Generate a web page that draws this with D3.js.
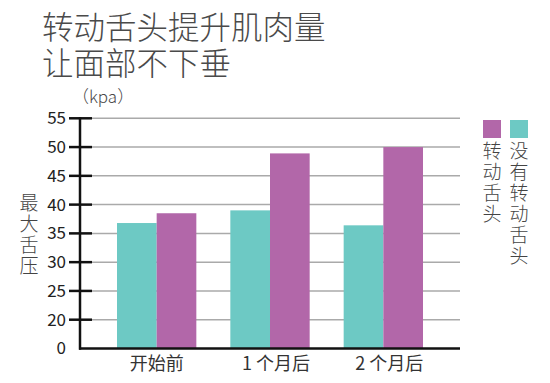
<!DOCTYPE html>
<html><head><meta charset="utf-8">
<script src="https://cdn.jsdelivr.net/npm/d3@7"></script>
<style>body{margin:0;background:#fff;position:relative}svg{display:block}
#title{position:absolute;left:42px;top:6.6px;margin:0;white-space:pre-line;font-family:'Noto Sans CJK SC','Noto Sans',sans-serif;font-size:31.5px;line-height:36.5px;font-weight:300;color:#4a4a4a}</style>
</head><body>
<svg id="c" width="550" height="383"></svg>
<script>
const titleLines = ["转动舌头提升肌肉量", "让面部不下垂"];
const unitLabel = "（kpa）";
const yAxisTitle = "最大舌压";
const categories = ["开始前", "1 个月后", "2 个月后"];
const seriesNames = ["没有转动舌头", "转动舌头"];
const seriesColors = ["#6dc9c4", "#b267a9"];
const withoutTongue = [36.8, 39.0, 36.4];
const withTongue = [38.5, 48.9, 50.0];
const yTicks = [0, 20, 25, 30, 35, 40, 45, 50, 55];

const svg = d3.select("#c");
const font = "'Noto Sans CJK SC','Noto Sans',sans-serif";

// title (single block, two lines)
d3.select("body").append("div").attr("id", "title").text(titleLines.join("\n"));

svg.append("text").attr("x", 72).attr("y", 103)
  .attr("font-family", font).attr("font-size", 17).attr("font-weight", 300).attr("fill", "#4a4a4a")
  .text(unitLabel);

const y = d3.scaleLinear().domain([0, 20, 55]).range([348.5, 319.7, 118.3]);
const x0 = d3.scaleBand().domain(categories).range([100, 440]).paddingInner(0.3).paddingOuter(0.15);
const x1 = d3.scaleBand().domain(seriesNames).range([0, x0.bandwidth()]);

// gridlines
svg.selectAll("line.grid").data(yTicks.filter(t => t > 0)).enter().append("line")
  .attr("x1", 92).attr("x2", 460).attr("y1", d => y(d)).attr("y2", d => y(d))
  .attr("stroke", "#aaaaaa").attr("stroke-width", 1.5);

// bars
const rows = categories.map((c, i) => ({ c, vals: [withoutTongue[i], withTongue[i]] }));
const g = svg.selectAll("g.grp").data(rows).enter().append("g")
  .attr("transform", d => `translate(${x0(d.c)},0)`);
g.selectAll("rect").data(d => d.vals.map((v, j) => ({ s: seriesNames[j], v, j }))).enter().append("rect")
  .attr("x", d => x1(d.s)).attr("width", x1.bandwidth())
  .attr("y", d => y(d.v)).attr("height", d => y(0) - y(d.v))
  .attr("fill", d => seriesColors[d.j]);

// axis
const yAxis = d3.axisLeft(y).tickValues(yTicks).tickSize(0).tickPadding(0);
const ax = svg.append("g").attr("transform", "translate(80,0)").call(yAxis);
ax.select(".domain").remove();
ax.selectAll("text").attr("x", -14).attr("font-family", font).attr("font-size", 17).attr("fill", "#222");
svg.selectAll("line.tick").data(yTicks.filter(t => t > 0)).enter().append("line")
  .attr("x1", 69).attr("x2", 92).attr("y1", d => y(d)).attr("y2", d => y(d))
  .attr("stroke", "#111").attr("stroke-width", 2.5);
svg.append("line").attr("x1", 80).attr("x2", 80).attr("y1", y(55) - 1).attr("y2", y(0) + 1.2)
  .attr("stroke", "#111").attr("stroke-width", 2.5);
svg.append("line").attr("x1", 79).attr("x2", 460).attr("y1", y(0)).attr("y2", y(0))
  .attr("stroke", "#111").attr("stroke-width", 2.5);

// x labels
svg.selectAll("text.xl").data(categories).enter().append("text")
  .attr("x", d => x0(d) + x0.bandwidth() / 2 + (d === categories[0] ? 0 : 6)).attr("y", 370)
  .attr("text-anchor", "middle").attr("font-family", font).attr("font-size", 18).attr("fill", "#333")
  .text(d => d);

// vertical text helper
function vtext(x, yTop, str, size, spacing) {
  svg.append("text").attr("x", x).attr("y", yTop)
    .attr("writing-mode", "vertical-rl")
    .style("letter-spacing", spacing + "px")
    .attr("font-family", font).attr("font-size", size).attr("font-weight", 300).attr("fill", "#444")
    .text(str);
}
vtext(29, 193, yAxisTitle, 19, 2);

// legend
const legendOrder = [1, 0];
legendOrder.forEach((si, k) => {
  const lx = 483 + k * 27;
  svg.append("rect").attr("x", lx).attr("y", 120).attr("width", 18).attr("height", 18).attr("fill", seriesColors[si]);
  vtext(lx + 9, 141, seriesNames[si], 19, 2);
});
</script>
</body></html>
